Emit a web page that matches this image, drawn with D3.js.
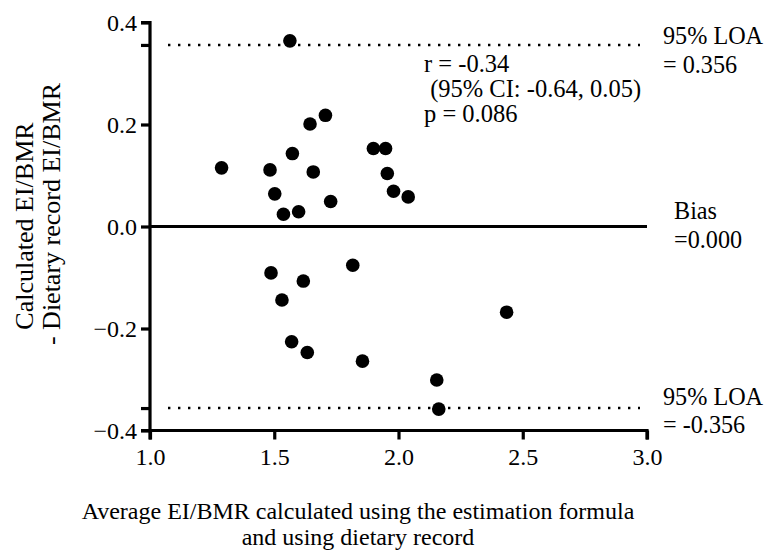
<!DOCTYPE html>
<html>
<head>
<meta charset="utf-8">
<script src="https://cdn.jsdelivr.net/npm/d3@7"></script>
<style>
  body { margin: 0; background: #fff; }
  text { font-family: "Liberation Serif", "Times New Roman", serif; fill: #000; }
</style>
</head>
<body>
<div class="canvas"></div>
<script>
// mean of the two methods vs. difference (Bland-Altman)
const avgValues = [1.563, 1.288, 1.483, 1.502, 1.537, 1.598, 1.573, 1.644, 1.706, 1.657, 1.727,
    1.899, 1.948, 1.955, 1.980, 2.039,
    1.487, 1.617, 1.531, 1.816, 1.570, 1.633, 1.855,
    2.435, 2.154, 2.162]
const diffValues = [0.364, 0.115, 0.111, 0.064, 0.024, 0.029, 0.143, 0.201, 0.218, 0.107, 0.049,
    0.153, 0.153, 0.104, 0.069, 0.058,
    -0.091, -0.107, -0.144, -0.076, -0.226, -0.247, -0.264,
    -0.168, -0.301, -0.358]
const xTicks = [1.0, 1.5, 2.0, 2.5, 3.0]
const yTicks = [0.4, 0.2, 0.0, -0.2, -0.4]
const bias = 0.000
const loa = [0.356, -0.356]
const statLines = ['r = -0.34', ' (95% CI: -0.64, 0.05)', 'p = 0.086']

const width = 769, height = 551
const svg = d3.select('.canvas').append('svg')
    .attr('width', width)
    .attr('height', height)

const xScale = d3.scaleLinear().domain([1, 3]).range([150, 647])
const yScale = d3.scaleLinear().domain([-0.4, 0.4]).range([430.5, 22.5])

// axes
const xAxis = d3.axisBottom(xScale).tickValues(xTicks).tickSize(9).tickPadding(8).tickFormat(d3.format('.1f'))
const yAxis = d3.axisLeft(yScale).tickValues(yTicks.concat(loa)).tickSize(9).tickPadding(4)
    .tickFormat(d => yTicks.includes(d) ? d3.format('.1f')(d) : '')

const xg = svg.append('g').attr('transform', `translate(0, ${yScale(-0.4)})`).call(xAxis)
const yg = svg.append('g').attr('transform', `translate(${xScale(1)}, 0)`).call(yAxis)

for (const g of [xg, yg]) {
    g.attr('font-size', 24).attr('font-family', '"Liberation Serif", serif')
    g.select('.domain').attr('stroke', '#000').attr('stroke-width', 3.2)
    g.selectAll('.tick line').attr('stroke', '#000').attr('stroke-width', 3.2)
    g.selectAll('.tick text').attr('font-size', 24)
}
xg.select('.domain').attr('d', `M${xScale(1)},9V0H${xScale(3)}V9`)
yg.select('.domain').attr('d', `M-9,${yScale(0.4)}H0V${yScale(-0.4)}H-9`)

// bias line
svg.append('line')
    .attr('x1', xScale(1)).attr('x2', xScale(3))
    .attr('y1', yScale(bias)).attr('y2', yScale(bias))
    .attr('stroke', '#000').attr('stroke-width', 2.8)

// limits of agreement
svg.selectAll('.loa').data(loa).enter().append('line')
    .attr('class', 'loa')
    .attr('x1', 168).attr('x2', 640)
    .attr('y1', d => yScale(d)).attr('y2', d => yScale(d))
    .attr('stroke', '#000').attr('stroke-width', 2.4)
    .attr('stroke-dasharray', '2.4 7.6')

// points
svg.selectAll('circle').data(avgValues).enter().append('circle')
    .attr('cx', d => xScale(d))
    .attr('cy', (d, i) => yScale(diffValues[i]))
    .attr('r', 6.8)
    .attr('fill', '#000')

// right side labels
const labels = [
    { t: '95% LOA', x: 663, y: 44 },
    { t: '= 0.356', x: 663, y: 73 },
    { t: 'Bias', x: 674, y: 219 },
    { t: '=0.000', x: 674, y: 248 },
    { t: '95% LOA', x: 663, y: 405 },
    { t: '= -0.356', x: 663, y: 433 }
]
svg.selectAll('.lab').data(labels).enter().append('text')
    .attr('class', 'lab')
    .attr('x', d => d.x).attr('y', d => d.y)
    .attr('font-size', 24.2)
    .text(d => d.t)

svg.selectAll('.stat').data(statLines).enter().append('text')
    .attr('class', 'stat')
    .attr('x', 424).attr('y', (d, i) => 72 + i * 25)
    .attr('font-size', 24.5)
    .attr('xml:space', 'preserve')
    .style('white-space', 'pre')
    .text(d => d)

// axis titles
svg.append('text')
    .attr('x', 358).attr('y', 519)
    .attr('text-anchor', 'middle').attr('font-size', 24)
    .text('Average EI/BMR calculated using the estimation formula')
svg.append('text')
    .attr('x', 358).attr('y', 545)
    .attr('text-anchor', 'middle').attr('font-size', 24)
    .text('and using dietary record')

const yt = svg.append('g').attr('transform', 'rotate(-90)')
yt.append('text').attr('x', -226).attr('y', 33)
    .attr('text-anchor', 'middle').attr('font-size', 26)
    .text('Calculated EI/BMR')
yt.append('text').attr('x', -214).attr('y', 60)
    .attr('text-anchor', 'middle').attr('font-size', 26)
    .text('- Dietary record EI/BMR')
</script>
</body>
</html>
